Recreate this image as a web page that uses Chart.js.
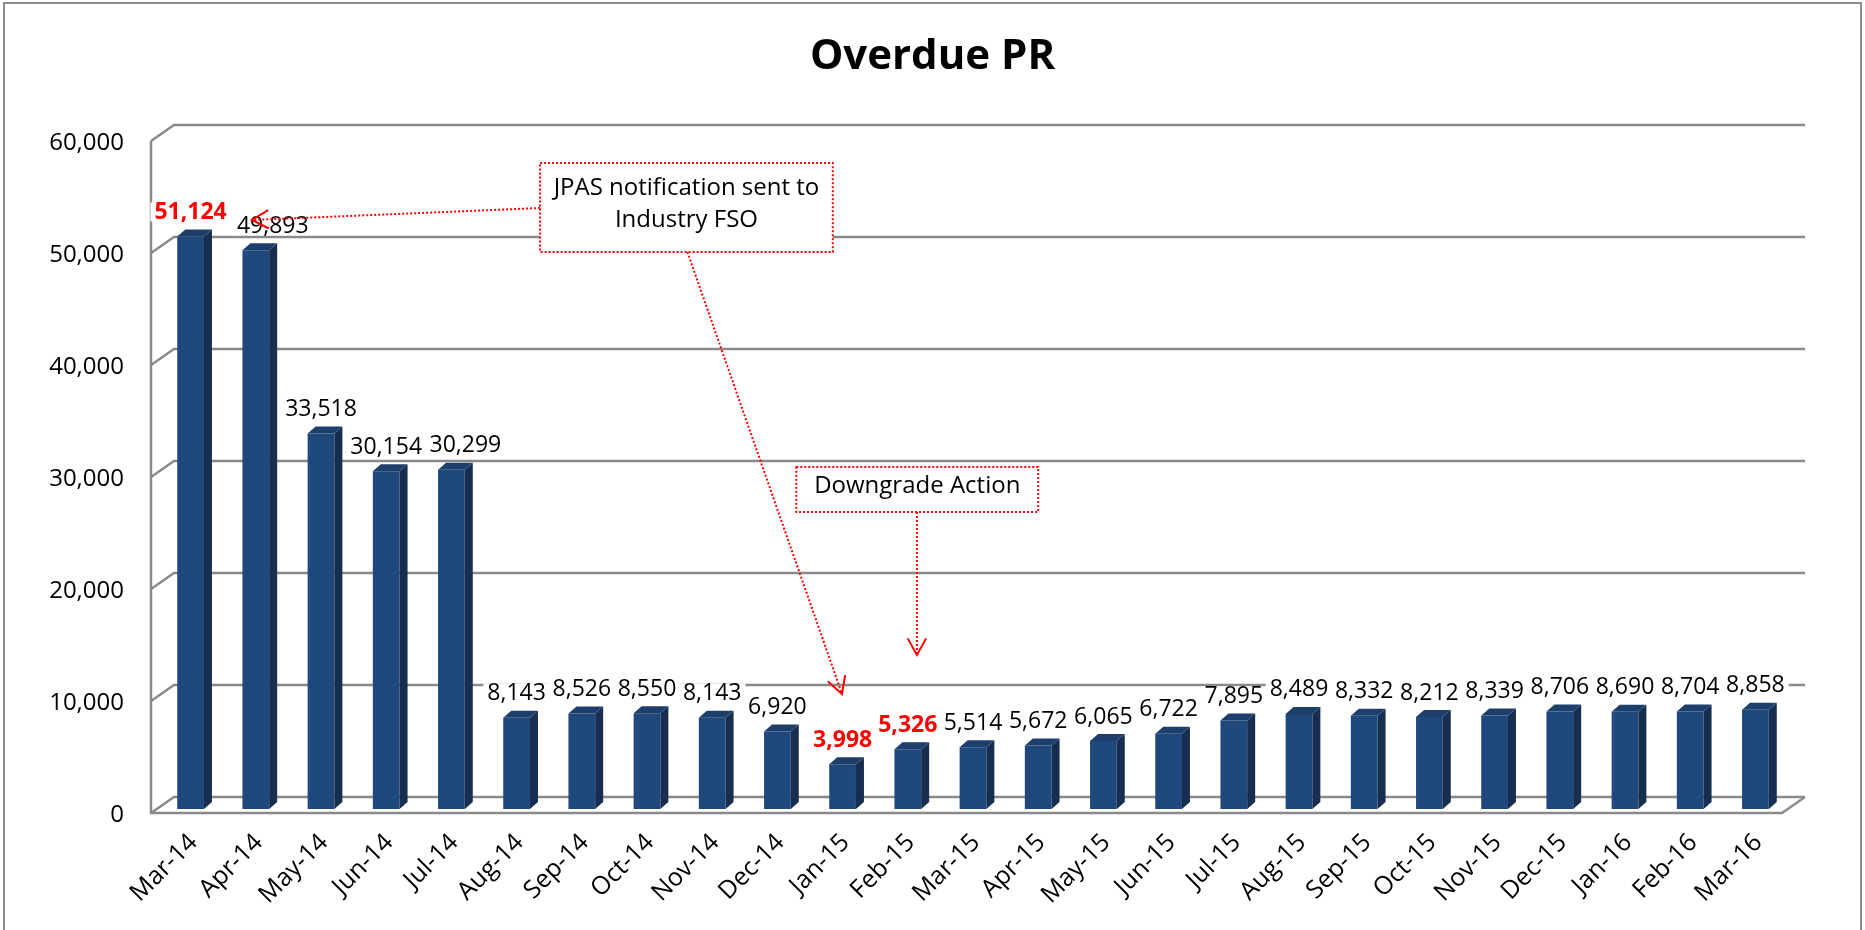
<!DOCTYPE html>
<html>
<head>
<meta charset="utf-8">
<script src="https://cdn.jsdelivr.net/npm/chart.js@4.4.1/dist/chart.umd.min.js"></script>
<style>
  html, body { margin: 0; padding: 0; background: #ffffff; }
  #wrap { width: 1865px; height: 930px; }
</style>
</head>
<body>
<div id="wrap"><canvas id="c" width="1865" height="930"></canvas></div>
<script>
// ---------------- DATA ----------------
const months = ['Mar-14','Apr-14','May-14','Jun-14','Jul-14','Aug-14','Sep-14','Oct-14','Nov-14','Dec-14',
  'Jan-15','Feb-15','Mar-15','Apr-15','May-15','Jun-15','Jul-15','Aug-15','Sep-15','Oct-15','Nov-15','Dec-15',
  'Jan-16','Feb-16','Mar-16'];
const overduePR = [51124, 49893, 33518, 30154, 30299, 8143, 8526, 8550, 8143, 6920,
  3998, 5326, 5514, 5672, 6065, 6722, 7895, 8489, 8332, 8212, 8339, 8706,
  8690, 8704, 8858];
const highlightedMonths = ['Mar-14', 'Jan-15', 'Feb-15'];
const yTicks = [0, 10000, 20000, 30000, 40000, 50000, 60000];
const chartTitle = 'Overdue PR';
const jpasNote = ['JPAS notification sent to', 'Industry FSO'];
const downgradeNote = ['Downgrade Action'];

// ---------------- STYLE ----------------
const FONT = '"Open Sans", "DejaVu Sans", sans-serif';
const GRID = '#8a8a8a';
const BAR_FRONT = '#1F497D';
const BAR_SIDE = '#172E50';
const BAR_TOP = '#1D3F6C';
const RED = '#FF0000';
// manual horizontal nudges of a few data labels (pixels), as in the source chart
const labelNudge = { 'Apr-14': 17, 'Jul-14': 14 };

// annotation geometry in data units (category index, value)
const notes = {
  jpasBox: { i0: 5.36, i1: 9.85, v0: 57680, v1: 49730 },
  jpasArrowA: { from: [5.36, 53660], to: [0.94, 52590] },
  jpasArrowB: { from: [7.62, 49730], to: [9.99, 10270] },
  downBox: { i0: 9.29, i1: 13.0, v0: 30540, v1: 26520 },
  downArrow: { from: [11.14, 26520], to: [11.14, 13750] }
};

const wallPlugin = {
  id: 'wall3d',
  beforeDatasetsDraw(chart) {
    const { ctx, chartArea: a, scales: { y: ys } } = chart;
    const L = a.left, R = a.right;
    ctx.save();
    ctx.strokeStyle = GRID;
    ctx.lineWidth = 2.5;
    ctx.lineJoin = 'round';
    for (const v of yTicks) {
      const y = ys.getPixelForValue(v);
      ctx.beginPath();
      ctx.moveTo(L - 7, y + 4);
      ctx.lineTo(L + 16, y - 12);
      ctx.lineTo(R + 17, y - 12);
      ctx.stroke();
    }
    const yTop = ys.getPixelForValue(yTicks[yTicks.length - 1]);
    const y0 = ys.getPixelForValue(0);
    ctx.beginPath();
    ctx.moveTo(L - 7, yTop + 4);
    ctx.lineTo(L - 7, y0 + 4);
    ctx.lineTo(R - 6, y0 + 4);
    ctx.lineTo(R + 17, y0 - 12);
    ctx.stroke();
    ctx.restore();
  },
  afterDatasetsDraw(chart) {
    const { ctx } = chart;
    const meta = chart.getDatasetMeta(0);
    const dx = 8, dy = 7;
    ctx.save();
    meta.data.forEach((bar) => {
      const { x, y, base, width } = bar.getProps(['x', 'y', 'base', 'width'], true);
      const l = x - width / 2, r = x + width / 2;
      ctx.fillStyle = BAR_SIDE;
      ctx.beginPath();
      ctx.moveTo(r, y); ctx.lineTo(r + dx, y - dy); ctx.lineTo(r + dx, base - dy); ctx.lineTo(r, base);
      ctx.closePath(); ctx.fill();
      ctx.fillStyle = BAR_TOP;
      ctx.beginPath();
      ctx.moveTo(l, y); ctx.lineTo(l + dx, y - dy); ctx.lineTo(r + dx, y - dy); ctx.lineTo(r, y);
      ctx.closePath(); ctx.fill();
    });
    // data labels with tight white background; highlighted ones drawn last
    const order = meta.data.map((_, i) => i);
    order.sort((p, q) => (highlightedMonths.includes(months[p]) ? 1 : 0) - (highlightedMonths.includes(months[q]) ? 1 : 0));
    order.forEach((i) => {
      const bar = meta.data[i];
      const { x, y } = bar.getProps(['x', 'y'], true);
      const hi = highlightedMonths.includes(months[i]);
      const txt = overduePR[i].toLocaleString('en-US');
      ctx.font = (hi ? 'bold ' : '') + '23px ' + FONT;
      const w = ctx.measureText(txt).width;
      const cx = x + (labelNudge[months[i]] || 0);
      const cy = y - 24;
      ctx.fillStyle = '#ffffff';
      ctx.fillRect(cx - w / 2 - 4, cy - 10, w + 8, 19);
      ctx.fillStyle = hi ? RED : '#000000';
      ctx.textAlign = 'center';
      ctx.textBaseline = 'middle';
      ctx.fillText(txt, cx, cy);
    });
    ctx.restore();
  },
  afterDraw(chart) {
    const { ctx, scales: { x: xs, y: ys } } = chart;
    const P = (p) => [xs.getPixelForValue(p[0]), ys.getPixelForValue(p[1])];
    ctx.save();
    // outer border
    ctx.strokeStyle = '#8c8c8c';
    ctx.lineWidth = 2;
    ctx.beginPath();
    ctx.moveTo(4, 931); ctx.lineTo(4, 3); ctx.lineTo(1861, 3); ctx.lineTo(1861, 931);
    ctx.stroke();

    const dotted = (a, b) => {
      ctx.save();
      ctx.strokeStyle = RED; ctx.lineWidth = 2; ctx.setLineDash([2, 2]);
      ctx.beginPath(); ctx.moveTo(a[0], a[1]); ctx.lineTo(b[0], b[1]); ctx.stroke();
      ctx.restore();
    };
    const head = (a, b) => {
      const ang = Math.atan2(b[1] - a[1], b[0] - a[0]);
      const len = 19, spread = Math.PI / 6.2;
      ctx.save();
      ctx.strokeStyle = RED; ctx.lineWidth = 2; ctx.setLineDash([]);
      ctx.beginPath();
      ctx.moveTo(b[0] - len * Math.cos(ang - spread), b[1] - len * Math.sin(ang - spread));
      ctx.lineTo(b[0], b[1]);
      ctx.lineTo(b[0] - len * Math.cos(ang + spread), b[1] - len * Math.sin(ang + spread));
      ctx.stroke();
      ctx.restore();
    };
    const box = (bx, lines) => {
      const x0 = xs.getPixelForValue(bx.i0), x1 = xs.getPixelForValue(bx.i1);
      const y0 = ys.getPixelForValue(bx.v0), y1 = ys.getPixelForValue(bx.v1);
      ctx.save();
      ctx.fillStyle = '#ffffff';
      ctx.fillRect(x0, y0, x1 - x0, y1 - y0);
      ctx.strokeStyle = RED; ctx.lineWidth = 2; ctx.setLineDash([2, 2]);
      ctx.strokeRect(x0, y0, x1 - x0, y1 - y0);
      ctx.fillStyle = '#000000';
      ctx.font = '24px ' + FONT;
      ctx.textAlign = 'center'; ctx.textBaseline = 'middle';
      const cx = (x0 + x1) / 2, cy = (y0 + y1) / 2 - 3;
      const lh = 32;
      lines.forEach((t, k) => ctx.fillText(t, cx, cy + (k - (lines.length - 1) / 2) * lh));
      ctx.restore();
    };
    const arrow = (ar) => { const a = P(ar.from), b = P(ar.to); dotted(a, b); head(a, b); };

    arrow(notes.jpasArrowA);
    arrow(notes.jpasArrowB);
    box(notes.jpasBox, jpasNote);
    arrow(notes.downArrow);
    box(notes.downBox, downgradeNote);
    ctx.restore();
  }
};

new Chart(document.getElementById('c'), {
  type: 'bar',
  data: {
    labels: months,
    datasets: [{
      label: chartTitle,
      data: overduePR,
      backgroundColor: BAR_FRONT,
      borderWidth: 0,
      barPercentage: 0.41,
      categoryPercentage: 1.0
    }]
  },
  options: {
    responsive: false,
    animation: false,
    devicePixelRatio: 1,
    layout: { padding: { left: 0, right: 0, top: 0, bottom: 0 } },
    plugins: {
      legend: { display: false },
      tooltip: { enabled: false },
      title: {
        display: true,
        text: chartTitle,
        color: '#000000',
        font: { family: FONT, size: 42, weight: 'bold', lineHeight: 1.2 },
        padding: { top: 32, bottom: 54.6 }
      }
    },
    scales: {
      x: {
        grid: { display: false, drawTicks: false, drawOnChartArea: false },
        border: { display: false },
        ticks: {
          autoSkip: false,
          minRotation: 45,
          maxRotation: 45,
          padding: 19,
          labelOffset: 3,
          color: '#000000',
          font: { family: FONT, size: 25 }
        },
        afterFit(scale) { scale.height = 121; }
      },
      y: {
        min: 0,
        max: 60000,
        afterBuildTicks(scale) { scale.ticks = yTicks.map(v => ({ value: v })); },
        grid: { display: false, drawTicks: false },
        border: { display: false },
        ticks: {
          padding: 34,
          labelOffset: 6,
          color: '#000000',
          font: { family: FONT, size: 24 },
          callback: (v) => Number(v).toLocaleString('en-US')
        },
        afterFit(scale) { scale.width = 158; }
      },
      yRight: {
        type: 'linear',
        position: 'right',
        display: true,
        grid: { display: false, drawTicks: false },
        border: { display: false },
        ticks: { display: false },
        afterFit(scale) { scale.width = 77; }
      }
    }
  },
  plugins: [wallPlugin]
});
</script>
</body>
</html>
